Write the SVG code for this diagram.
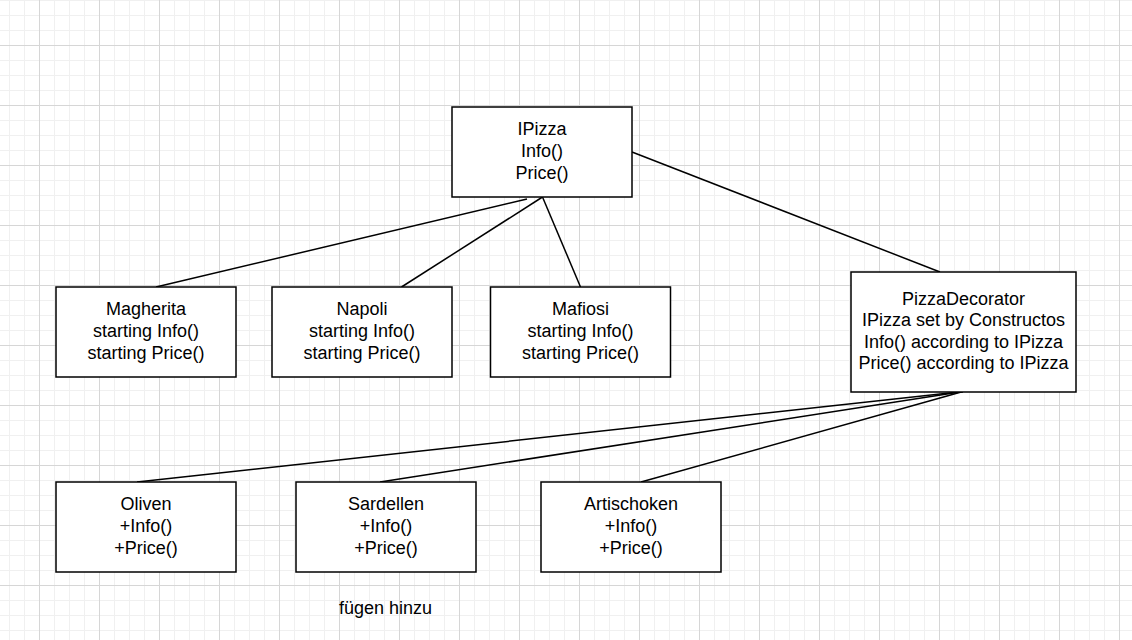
<svg xmlns="http://www.w3.org/2000/svg" width="1132" height="640" viewBox="0 0 1132 640">
  <defs>
    <pattern id="grid" x="39" y="45" width="60" height="60" patternUnits="userSpaceOnUse">
      <path d="M15.5 0V60M30.5 0V60M45.5 0V60M0 15.5H60M0 30.5H60M0 45.5H60" stroke="#f0f0f0" stroke-width="1" fill="none"/>
      <path d="M0.5 0V60M0 0.5H60" stroke="#d6d6d6" stroke-width="1" fill="none"/>
    </pattern>
  </defs>
  <style>
    .box { fill: #ffffff; stroke: #000000; stroke-width: 1.5; }
    .lbl { font-family: "Liberation Sans", Arial, Helvetica, sans-serif; font-size: 18px; fill: #000000; text-anchor: middle; }
    .edge { stroke: #000000; stroke-width: 1.5; fill: none; }
  </style>
  <rect x="0" y="0" width="1132" height="640" fill="#ffffff"/>
  <rect x="0" y="0" width="1132" height="640" fill="url(#grid)"/>

  <g id="connectors">
    <line class="edge" x1="527" y1="199" x2="156" y2="287"/>
    <line class="edge" x1="542.5" y1="197" x2="401.5" y2="287"/>
    <line class="edge" x1="542.5" y1="197" x2="580.5" y2="287"/>
    <line class="edge" x1="632" y1="152" x2="940" y2="272"/>
    <line class="edge" x1="963" y1="391.5" x2="137" y2="482"/>
    <line class="edge" x1="963" y1="391.5" x2="380" y2="482"/>
    <line class="edge" x1="963" y1="391.5" x2="641" y2="482"/>
  </g>

  <g id="ipizza">
    <rect class="box" x="452" y="107" width="180" height="90"/>
    <text class="lbl" x="542" y="135.4">IPizza</text>
    <text class="lbl" x="542" y="157">Info()</text>
    <text class="lbl" x="542" y="178.6">Price()</text>
  </g>

  <g id="magherita">
    <rect class="box" x="56" y="287" width="180" height="90"/>
    <text class="lbl" x="146" y="315.4">Magherita</text>
    <text class="lbl" x="146" y="337">starting Info()</text>
    <text class="lbl" x="146" y="358.6">starting Price()</text>
  </g>

  <g id="napoli">
    <rect class="box" x="272" y="287" width="180" height="90"/>
    <text class="lbl" x="362" y="315.4">Napoli</text>
    <text class="lbl" x="362" y="337">starting Info()</text>
    <text class="lbl" x="362" y="358.6">starting Price()</text>
  </g>

  <g id="mafiosi">
    <rect class="box" x="490.5" y="287" width="180" height="90"/>
    <text class="lbl" x="580.5" y="315.4">Mafiosi</text>
    <text class="lbl" x="580.5" y="337">starting Info()</text>
    <text class="lbl" x="580.5" y="358.6">starting Price()</text>
  </g>

  <g id="pizzadecorator">
    <rect class="box" x="851" y="272" width="225" height="120"/>
    <text class="lbl" x="963.5" y="304.6">PizzaDecorator</text>
    <text class="lbl" x="963.5" y="326.2">IPizza set by Constructos</text>
    <text class="lbl" x="963.5" y="347.8">Info() according to IPizza</text>
    <text class="lbl" x="963.5" y="369.4">Price() according to IPizza</text>
  </g>

  <g id="oliven">
    <rect class="box" x="56" y="482" width="180" height="90"/>
    <text class="lbl" x="146" y="510.4">Oliven</text>
    <text class="lbl" x="146" y="532">+Info()</text>
    <text class="lbl" x="146" y="553.6">+Price()</text>
  </g>

  <g id="sardellen">
    <rect class="box" x="296" y="482" width="180" height="90"/>
    <text class="lbl" x="386" y="510.4">Sardellen</text>
    <text class="lbl" x="386" y="532">+Info()</text>
    <text class="lbl" x="386" y="553.6">+Price()</text>
  </g>

  <g id="artischoken">
    <rect class="box" x="541" y="482" width="180" height="90"/>
    <text class="lbl" x="631" y="510.4">Artischoken</text>
    <text class="lbl" x="631" y="532">+Info()</text>
    <text class="lbl" x="631" y="553.6">+Price()</text>
  </g>

  <g id="note">
    <text class="lbl" x="385.5" y="614">fügen hinzu</text>
  </g>
</svg>
